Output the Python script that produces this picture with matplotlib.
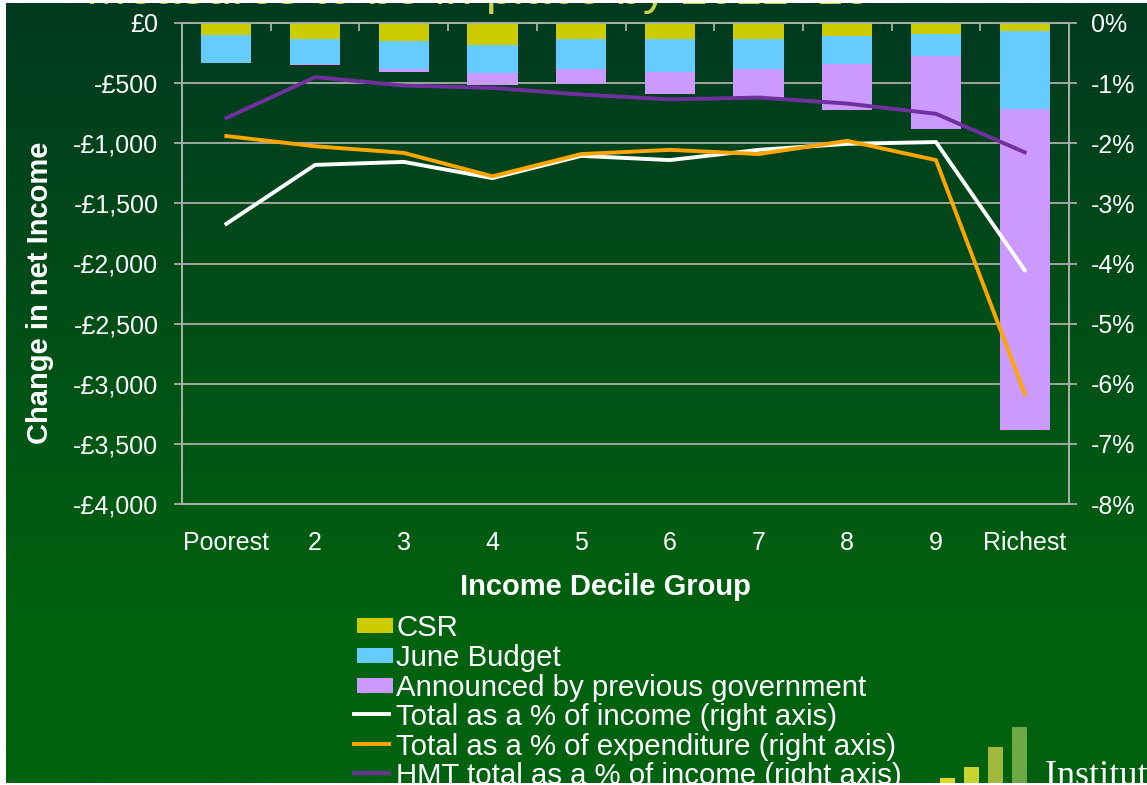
import numpy as np
import matplotlib
matplotlib.use("Agg")
import matplotlib.pyplot as plt
from matplotlib.patches import Rectangle
from matplotlib.lines import Line2D
from matplotlib.colors import to_rgb

# ---------------- data ----------------
categories = ["Poorest", "2", "3", "4", "5", "6", "7", "8", "9", "Richest"]
csr = [-100, -136, -147, -180, -136, -136, -136, -111, -91, -64]
june_budget = [-235, -208, -235, -238, -247, -272, -247, -230, -180, -649]
previous_gov = [0, -8, -22, -100, -125, -180, -238, -383, -607, -2672]
pct_income = [-3.34, -2.36, -2.31, -2.58, -2.21, -2.28, -2.11, -2.01, -1.98, -4.11]
pct_expenditure = [-1.88, -2.05, -2.16, -2.55, -2.18, -2.11, -2.18, -1.96, -2.28, -6.16]
hmt_pct_income = [-1.58, -0.90, -1.04, -1.08, -1.19, -1.27, -1.24, -1.34, -1.51, -2.15]

left_ticks = [0, -500, -1000, -1500, -2000, -2500, -3000, -3500, -4000]
left_tick_labels = ["£0", "-£500", "-£1,000", "-£1,500", "-£2,000", "-£2,500",
                    "-£3,000", "-£3,500", "-£4,000"]
right_ticks = [0, -1, -2, -3, -4, -5, -6, -7, -8]
right_tick_labels = ["0%", "-1%", "-2%", "-3%", "-4%", "-5%", "-6%", "-7%", "-8%"]

bar_names = ["CSR", "June Budget", "Announced by previous government"]
line_names = ["Total as a % of income (right axis)",
              "Total as a % of expenditure (right axis)",
              "HMT total as a % of income (right axis)"]
title_text = "Measures to be in place by 2012\u201313"
x_label = "Income Decile Group"
y_label = "Change in net Income"

# ---------------- style ----------------
plt.rcParams["font.family"] = ["Liberation Sans", "DejaVu Sans"]
W, H = 1147, 785
DPI = 100
bar_colors = ["#cccc00", "#66ccff", "#cc99ff"]
line_colors = ["#ffffff", "#ffa500", "#7030a0"]
grid_col = "#a9b0a9"

fig = plt.figure(figsize=(W / DPI, H / DPI), dpi=DPI)
fig.patch.set_facecolor("white")

# background gradient (inset, leaving thin white border like the screenshot)
bg = fig.add_axes([6 / W, 2 / H, (W - 6) / W, (H - 5) / H])
bg.set_axis_off()
top = np.array(to_rgb("#003a20"))
bot = np.array(to_rgb("#00610f"))
t = np.clip(np.linspace(0, 1, 400) / 0.78, 0, 1)[:, None]
grad = top * (1 - t) + bot * t
bg.imshow(grad[:, None, :], aspect="auto", extent=[0, 1, 0, 1])
bg.set_xlim(0, 1)
bg.set_ylim(0, 1)

# main axes
x0, x1, ytop, ybot = 182, 1069, 23, 504
ax = fig.add_axes([x0 / W, 1 - ybot / H, (x1 - x0) / W, (ybot - ytop) / H])
ax.set_facecolor("none")
x = np.arange(len(categories))
bw = 0.565
b1 = np.array(csr, dtype=float)
b2 = np.array(june_budget, dtype=float)
b3 = np.array(previous_gov, dtype=float)
ax.bar(x, b1, bw, color=bar_colors[0], zorder=2)
ax.bar(x, b2, bw, bottom=b1, color=bar_colors[1], zorder=2)
ax.bar(x, b3, bw, bottom=b1 + b2, color=bar_colors[2], zorder=2)

ax.set_xlim(-0.5, len(categories) - 0.5)
ax.set_ylim(-4000, 0)
ax.set_yticks(left_ticks)
ax.set_yticklabels(left_tick_labels)
ax.yaxis.grid(True, color=grid_col, lw=1.3, zorder=0)
ax.set_axisbelow(True)
for s in ax.spines.values():
    s.set_color(grid_col)
    s.set_linewidth(1.3)
ax.tick_params(axis="y", colors=grid_col, labelcolor="white", labelsize=18,
               length=6, width=1.3, direction="out", pad=11)
ax.set_xticks(x)
ax.set_xticklabels(categories)
ax.tick_params(axis="x", which="major", length=0, labelsize=18,
               labelcolor="white", pad=19.5)
ax.set_xticks(np.arange(0.5, len(categories) - 0.5, 1.0), minor=True)
ax.tick_params(axis="x", which="minor", bottom=False, top=True, direction="in",
               length=6, width=1.3, color=grid_col)

# right axis lines
ax2 = ax.twinx()
ax2.set_ylim(-8, 0)
ax2.set_yticks(right_ticks)
ax2.set_yticklabels(right_tick_labels)
for s in ax2.spines.values():
    s.set_color(grid_col)
    s.set_linewidth(1.3)
ax2.tick_params(axis="y", colors=grid_col, labelcolor="white", labelsize=18,
                length=6, width=1.3, direction="out", pad=10)
series_lines = [pct_income, pct_expenditure, hmt_pct_income]
for vals, c in zip(series_lines, line_colors):
    ax2.plot(x, vals, color=c, lw=2.8, solid_joinstyle="miter", zorder=3)

# axis labels
fig.text(605 / W, 1 - 587 / H, x_label, color="white", fontsize=21,
         fontweight="bold", ha="center", va="center")
fig.text(40 / W, 1 - 293 / H, y_label, color="white", fontsize=21,
         fontweight="bold", ha="center", va="center", rotation=90)

# title (cut off at top as in reference)
fig.text(478 / W, 1 - 4 / H, title_text, color="#c8d250", fontsize=35,
         ha="center", va="baseline")

# manual legend
ys = [625, 655, 685, 714, 744, 773]
for i, name in enumerate(bar_names + line_names):
    yc = 1 - ys[i] / H
    if i < 3:
        fig.patches.append(Rectangle((357 / W, yc - 7.5 / H), 36 / W, 15 / H,
                                     transform=fig.transFigure,
                                     facecolor=bar_colors[i], edgecolor="none"))
    else:
        fig.lines.append(Line2D([354 / W, 389 / W], [yc, yc],
                                transform=fig.transFigure,
                                color=line_colors[i - 3], lw=2.8))
    fig.text(396 / W, yc, name, color="white", fontsize=21.2, ha="left",
             va="center_baseline")

# logo fragment bottom right
logo_cols = ["#dcdc30", "#c8d432", "#a0b83c", "#6eaa44"]
logo_x = [940, 964, 988, 1012]
logo_top = [778, 767, 747, 727]
for lx, lt, lc in zip(logo_x, logo_top, logo_cols):
    fig.patches.append(Rectangle((lx / W, 2 / H), 15 / W, (H - lt - 2) / H,
                                 transform=fig.transFigure, facecolor=lc,
                                 edgecolor="none"))
fig.text(1045 / W, 1 - 785 / H, "Institute for Fiscal Studies", color="white",
         fontsize=26, family="Liberation Serif", ha="left", va="baseline")

# white border strips on top of everything
for rect in [(0, 0, 6 / W, 1), (0, 0, 1, 2 / H), (0, 1 - 3 / H, 1, 3 / H)]:
    fig.patches.append(Rectangle(rect[:2], rect[2], rect[3],
                                 transform=fig.transFigure, facecolor="white",
                                 edgecolor="none", zorder=10))

fig.savefig("out.png", dpi=DPI)
